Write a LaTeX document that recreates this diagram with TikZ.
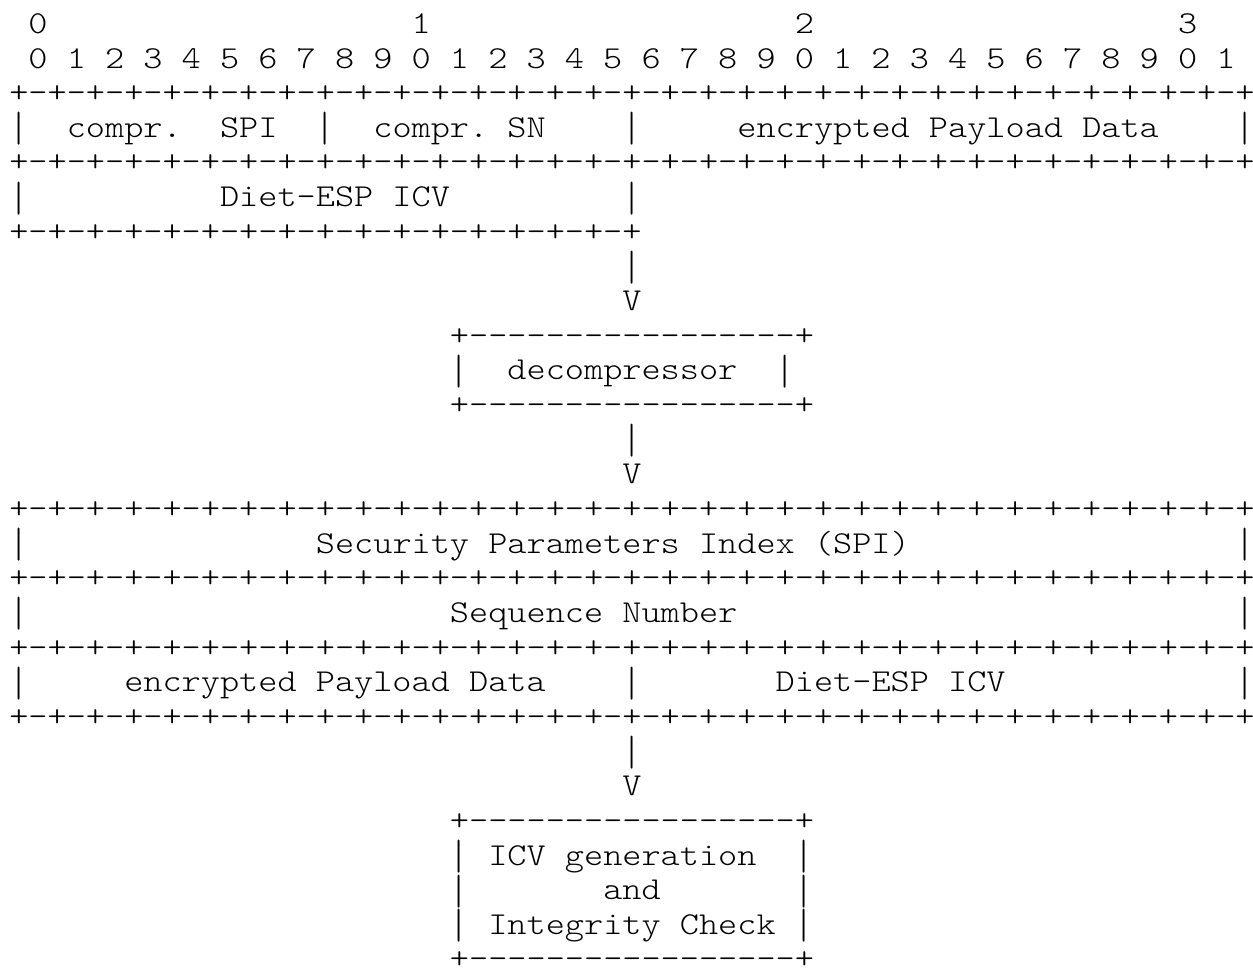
\documentclass[tikz,border=0pt]{standalone}
\usepackage{fontspec}
\usepackage{graphicx}
% Typewriter face, widened so that one character cell is 0.6em
\newfontfamily\asciifont{lmmonolt10-regular.otf}[FakeStretch=1.144, Ligatures=TeXOff]
\frenchspacing
\tikzset{
  ascii/.style={inner sep=0pt, outer sep=0pt, anchor=base west,
    font=\asciifont\fontsize{31.9}{34.65}\selectfont\frenchspacing},
}
% \seg{name}{row}{column}{text}: text on a fixed character grid
\newcommand\seg[4]{\node[ascii] (#1) at ({9.3+19.16*#3},{-33.4-34.65*#2}) {#4};}
% a vertical bar that fills most of the line
\newcommand\vbar{\raisebox{-8pt}{\resizebox{\width}{33pt}{\raisebox{\depth}{|}}}}
\newcommand\fullrule{+-+-+-+-+-+-+-+-+-+-+-+-+-+-+-+-+-+-+-+-+-+-+-+-+-+-+-+-+-+-+-+-+}
\newcommand\halfrule{+-+-+-+-+-+-+-+-+-+-+-+-+-+-+-+-+}
\newcommand\boxrule{+-----------------+}
\begin{document}
\begin{tikzpicture}[x=1pt,y=1pt]
\useasboundingbox (0,0) rectangle (1253,-968);

% bit numbering
\seg{tenA}{0}{1}{0}
\seg{tenB}{0}{21}{1}
\seg{tenC}{0}{41}{2}
\seg{tenD}{0}{61}{3}
\seg{bits}{1}{1}{0~1~2~3~4~5~6~7~8~9~0~1~2~3~4~5~6~7~8~9~0~1~2~3~4~5~6~7~8~9~0~1}

% compressed Diet-ESP packet
\seg{topA}{2}{0}{\fullrule}
\seg{cpL}{3}{0}{\vbar}
\seg{cspi}{3}{3}{compr.~~SPI}
\seg{cpM}{3}{16}{\vbar}
\seg{csn}{3}{19}{compr.~SN}
\seg{cpN}{3}{32}{\vbar}
\seg{cpay}{3}{38}{encrypted~Payload~Data}
\seg{cpR}{3}{64}{\vbar}
\seg{topB}{4}{0}{\fullrule}
\seg{icvL}{5}{0}{\vbar}
\seg{cicv}{5}{11}{Diet-ESP~ICV}
\seg{icvR}{5}{32}{\vbar}
\seg{topC}{6}{0}{\halfrule}

% arrow to the decompressor
\seg{arAbar}{7}{32}{\vbar}
\seg{arAhead}{8}{32}{V}

% decompressor box
\seg{decT}{9}{23}{\boxrule}
\seg{decL}{10}{23}{\vbar}
\seg{dec}{10}{26}{decompressor}
\seg{decR}{10}{40}{\vbar}
\seg{decB}{11}{23}{\boxrule}

% arrow to the full ESP packet
\seg{arBbar}{12}{32}{\vbar}
\seg{arBhead}{13}{32}{V}

% uncompressed ESP packet
\seg{espA}{14}{0}{\fullrule}
\seg{spiL}{15}{0}{\vbar}
\seg{spi}{15}{16}{Security~Parameters~Index~(SPI)}
\seg{spiR}{15}{64}{\vbar}
\seg{espB}{16}{0}{\fullrule}
\seg{snL}{17}{0}{\vbar}
\seg{sn}{17}{23}{Sequence~Number}
\seg{snR}{17}{64}{\vbar}
\seg{espC}{18}{0}{\fullrule}
\seg{payL}{19}{0}{\vbar}
\seg{pay}{19}{6}{encrypted~Payload~Data}
\seg{payM}{19}{32}{\vbar}
\seg{icv}{19}{40}{Diet-ESP~ICV}
\seg{payR}{19}{64}{\vbar}
\seg{espD}{20}{0}{\fullrule}

% arrow to the integrity check
\seg{arCbar}{21}{32}{\vbar}
\seg{arChead}{22}{32}{V}

% ICV box
\seg{chkT}{23}{23}{\boxrule}
\seg{chkL1}{24}{23}{\vbar}
\seg{chk1}{24}{25}{ICV~generation}
\seg{chkR1}{24}{41}{\vbar}
\seg{chkL2}{25}{23}{\vbar}
\seg{chk2}{25}{31}{and}
\seg{chkR2}{25}{41}{\vbar}
\seg{chkL3}{26}{23}{\vbar}
\seg{chk3}{26}{25}{Integrity~Check}
\seg{chkR3}{26}{41}{\vbar}
\seg{chkB}{27}{23}{\smash{\boxrule}}
\end{tikzpicture}
\end{document}
